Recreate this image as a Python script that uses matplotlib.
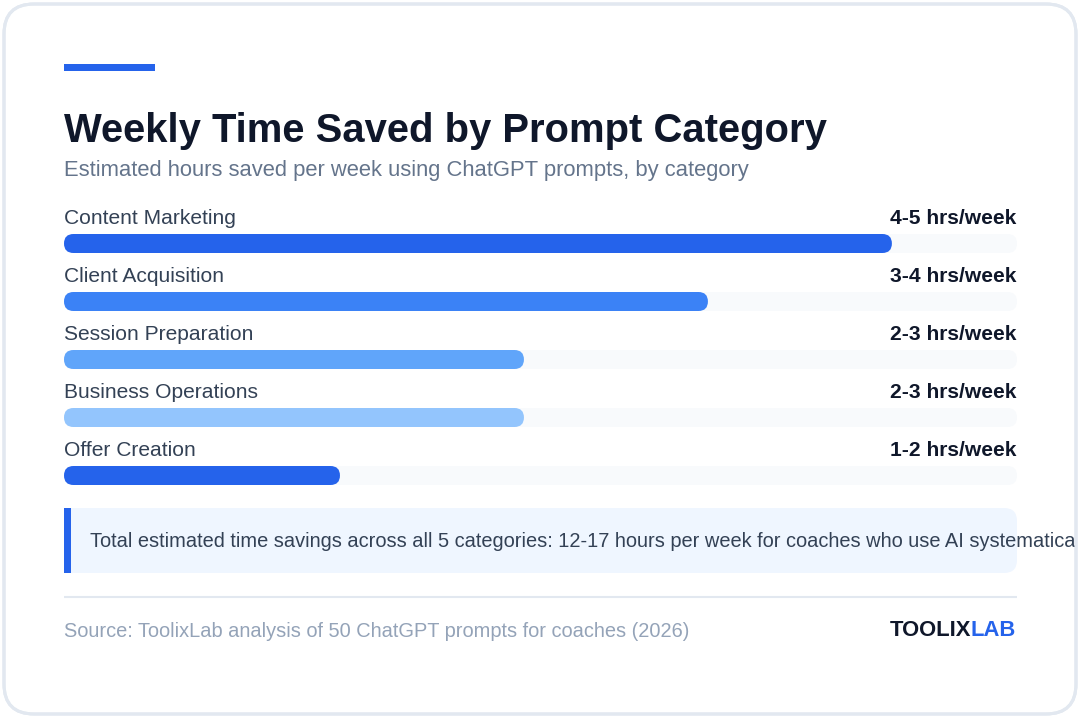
import matplotlib
matplotlib.use("Agg")
import matplotlib.pyplot as plt
from matplotlib.patches import FancyBboxPatch, Rectangle
from matplotlib.transforms import Bbox, TransformedBbox

plt.rcParams['font.family'] = ['Liberation Sans', 'DejaVu Sans']

# ---------------------------------------------------------
# Data
# ---------------------------------------------------------
categories = ['Content Marketing', 'Client Acquisition', 'Session Preparation',
              'Business Operations', 'Offer Creation']
hours_low = [4, 3, 2, 2, 1]
hours_high = [5, 4, 3, 3, 2]
value_labels = ['4-5 hrs/week', '3-4 hrs/week', '2-3 hrs/week', '2-3 hrs/week', '1-2 hrs/week']
bar_colors = ['#2563eb', '#3b82f6', '#60a5fa', '#93c5fd', '#2563eb']
scale_max = 5.18

title = 'Weekly Time Saved by Prompt Category'
subtitle = 'Estimated hours saved per week using ChatGPT prompts, by category'
callout = ('Total estimated time savings across all 5 categories: 12-17 hours per week '
           'for coaches who use AI systematically')
source = 'Source: ToolixLab analysis of 50 ChatGPT prompts for coaches (2026)'

# ---------------------------------------------------------
# Canvas in pixel coordinates
# ---------------------------------------------------------
W, H = 1080, 718
fig = plt.figure(figsize=(W / 100, H / 100), dpi=100)
fig.patch.set_facecolor('white')
ax = fig.add_axes([0, 0, 1, 1])
ax.set_xlim(0, W)
ax.set_ylim(H, 0)
ax.axis('off')

def px(size):
    return size * 0.72

# card
card = FancyBboxPatch((4, 4), W - 8, H - 8, boxstyle='round,pad=0,rounding_size=30',
                      facecolor='white', edgecolor='#e2e8f0', linewidth=2.2, zorder=1)
ax.add_patch(card)
card_edge = FancyBboxPatch((4, 4), W - 8, H - 8, boxstyle='round,pad=0,rounding_size=30',
                           facecolor='none', edgecolor='#e2e8f0', linewidth=2.2, zorder=20)
ax.add_patch(card_edge)

left, right = 64, 1017
track_w = right - left

# accent + header
ax.add_patch(Rectangle((left, 64), 91, 6.5, facecolor='#2563eb', edgecolor='none', zorder=3))
ax.text(left, 142, title, fontsize=px(40), fontweight='bold', color='#0f172a',
        va='baseline', ha='left', zorder=5)
ax.text(left, 176, subtitle, fontsize=px(22), color='#64748b',
        va='baseline', ha='left', zorder=5)

# bars
bar_h = 19
for i, cat in enumerate(categories):
    base = 224 + 58 * i
    ytop = base + 10
    mid = (hours_low[i] + hours_high[i]) / 2
    bw = mid / scale_max * track_w
    ax.text(left, base, cat, fontsize=px(21), color='#334155', va='baseline', ha='left', zorder=5)
    ax.text(right - 1, base, value_labels[i], fontsize=px(21), fontweight='bold',
            color='#0f172a', va='baseline', ha='right', zorder=5)
    ax.add_patch(FancyBboxPatch((left, ytop), track_w, bar_h,
                                boxstyle='round,pad=0,rounding_size=9.5',
                                facecolor='#f8fafc', edgecolor='none', zorder=3))
    ax.add_patch(FancyBboxPatch((left, ytop), bw, bar_h,
                                boxstyle='round,pad=0,rounding_size=9.5',
                                facecolor=bar_colors[i], edgecolor='none', zorder=4))

# callout box
ax.add_patch(FancyBboxPatch((left, 508), track_w, 65, boxstyle='round,pad=0,rounding_size=13',
                            facecolor='#eff6ff', edgecolor='none', zorder=3))
ax.add_patch(Rectangle((left, 508), 20, 65, facecolor='#eff6ff', edgecolor='none', zorder=3))
ax.add_patch(Rectangle((left, 508), 7, 65, facecolor='#2563eb', edgecolor='none', zorder=4))
t = ax.text(90, 547, callout, fontsize=px(20), color='#334155', va='baseline', ha='left',
            zorder=5, clip_on=True)
t.set_clip_box(TransformedBbox(Bbox([[0, 0], [1075, H]]), ax.transData))

# footer
ax.plot([left, right], [597, 597], color='#e2e8f0', linewidth=1.5,
        solid_capstyle='butt', zorder=3)
ax.text(left, 637, source, fontsize=px(20), color='#94a3b8', va='baseline', ha='left', zorder=5)

lab = ax.text(right - 1, 636, 'LAB', fontsize=px(22), fontweight='bold', color='#2563eb',
              va='baseline', ha='right', zorder=5)
fig.canvas.draw()
bb = lab.get_window_extent().transformed(ax.transData.inverted())
ax.text(min(bb.x0, bb.x1), 636, 'TOOLIX', fontsize=px(22), fontweight='bold', color='#0f172a',
        va='baseline', ha='right', zorder=5)

fig.savefig('out.png', dpi=100, facecolor='white')
